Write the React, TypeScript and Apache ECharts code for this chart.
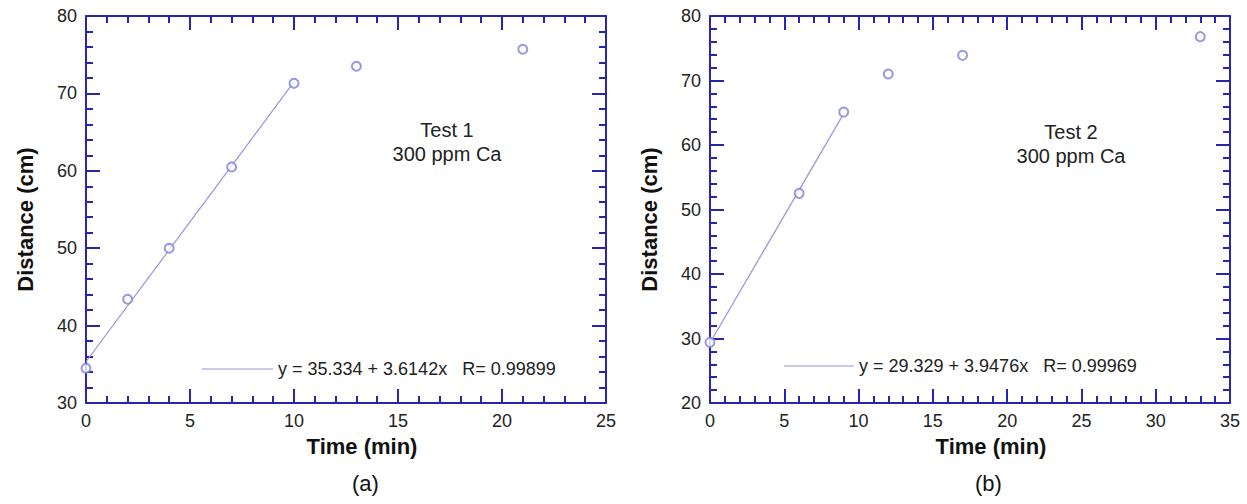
import { useEffect, useRef } from 'react';
import * as echarts from 'echarts';

// Test 1 (a): time (min) / distance (cm)
const test1Time = [0, 2, 4, 7, 10, 13, 21];
const test1Distance = [34.5, 43.4, 50.0, 60.5, 71.3, 73.5, 75.7];
const test1FitTime = [0, 10];
const test1FitDistance = [35.33, 71.48];

// Test 2 (b)
const test2Time = [0, 6, 9, 12, 17, 33];
const test2Distance = [29.4, 52.5, 65.1, 71.0, 73.9, 76.8];
const test2FitTime = [0, 9];
const test2FitDistance = [29.33, 64.86];

const test1FitName = 'y = 35.334 + 3.6142x\u00a0\u00a0\u00a0R= 0.99899';
const test2FitName = 'y = 29.329 + 3.9476x\u00a0\u00a0\u00a0R= 0.99969';

const FONT = "'Liberation Sans', Arial, sans-serif";
const AXIS_BLUE = '#2626b0';
const MARK_COLOR = '#8080dc';
const LINE_COLOR = '#9494e2';

const toPairs = (xs: number[], ys: number[]) => xs.map((x, i) => [x, ys[i]]);

function frameAxis(gridIndex: number, position: string, min: number, max: number, interval: number, labels: boolean, extra: any = {}) {
  return {
    type: 'value',
    gridIndex,
    position,
    min,
    max,
    interval,
    axisLine: { show: true, onZero: false, lineStyle: { color: AXIS_BLUE, width: 2 } },
    axisTick: { show: true, inside: true, length: 14, lineStyle: { color: AXIS_BLUE, width: 2 } },
    minorTick: { show: true, splitNumber: 5, length: 7, lineStyle: { color: AXIS_BLUE, width: 2 } },
    splitLine: { show: false },
    minorSplitLine: { show: false },
    axisLabel: { show: labels, color: '#222', fontSize: 18, fontFamily: FONT, margin: 9 },
    ...extra,
  };
}

const xName = (padLeft: number) => ({
  name: 'Time (min)',
  nameLocation: 'middle',
  nameGap: 32,
  nameTextStyle: { color: '#111', fontSize: 22, fontWeight: 'bold', fontFamily: FONT, padding: [0, 0, 0, padLeft] },
});

const yName = {
  name: 'Distance (cm)',
  nameLocation: 'middle',
  nameGap: 50,
  nameTextStyle: { color: '#111', fontSize: 22, fontWeight: 'bold', fontFamily: FONT, padding: [0, 20, 0, 0] },
};

const fitLegend = (name: string, left: number, top: number, width: number) => ({
  data: [name],
  left,
  top,
  padding: 0,
  icon: 'rect',
  itemWidth: width,
  itemHeight: 1.2,
  selectedMode: false,
  textStyle: { color: '#222', fontSize: 18, fontFamily: FONT },
});

const noteText = (text: string, x: number, y: number) => ({
  type: 'text',
  x,
  y,
  style: {
    text,
    fill: '#222',
    fontSize: 20,
    lineHeight: 24,
    fontFamily: FONT,
    align: 'center',
    verticalAlign: 'top',
  },
});

export default function App() {
  const chartRef = useRef<HTMLDivElement>(null);

  useEffect(() => {
    if (!chartRef.current) return;
    const chart = echarts.init(chartRef.current, null, { renderer: 'svg' });

    const option = {
      animation: false,
      backgroundColor: '#ffffff',
      grid: [
        { left: 86, top: 16, width: 520, height: 387 },
        { left: 710, top: 16, width: 520, height: 387 },
      ],
      xAxis: [
        frameAxis(0, 'bottom', 0, 25, 5, true, xName(32)),
        frameAxis(0, 'top', 0, 25, 5, false),
        frameAxis(1, 'bottom', 0, 35, 5, true, xName(42)),
        frameAxis(1, 'top', 0, 35, 5, false),
      ],
      yAxis: [
        frameAxis(0, 'left', 30, 80, 10, true, yName),
        frameAxis(0, 'right', 30, 80, 10, false),
        frameAxis(1, 'left', 20, 80, 10, true, yName),
        frameAxis(1, 'right', 20, 80, 10, false),
      ],
      legend: [
        fitLegend(test1FitName, 202, 360, 71),
        fitLegend(test2FitName, 784, 357, 70),
      ],
      graphic: [
        noteText('Test 1\n300 ppm Ca', 447, 118),
        noteText('Test 2\n300 ppm Ca', 1071, 120),
        {
          type: 'text',
          left: 352,
          top: 472,
          style: { text: '(a)', fill: '#111', fontSize: 22, fontFamily: FONT },
        },
        {
          type: 'text',
          left: 975,
          top: 472,
          style: { text: '(b)', fill: '#111', fontSize: 22, fontFamily: FONT },
        },
      ],
      series: [
        {
          name: 'Test 1',
          type: 'scatter',
          xAxisIndex: 0,
          yAxisIndex: 0,
          symbol: 'emptyCircle',
          symbolSize: 9,
          itemStyle: { color: MARK_COLOR, borderWidth: 1.2 },
          data: toPairs(test1Time, test1Distance),
          z: 3,
        },
        {
          name: test1FitName,
          type: 'line',
          xAxisIndex: 0,
          yAxisIndex: 0,
          symbol: 'none',
          lineStyle: { color: LINE_COLOR, width: 1.2 },
          itemStyle: { color: LINE_COLOR },
          data: toPairs(test1FitTime, test1FitDistance),
        },
        {
          name: 'Test 2',
          type: 'scatter',
          xAxisIndex: 2,
          yAxisIndex: 2,
          symbol: 'emptyCircle',
          symbolSize: 9,
          itemStyle: { color: MARK_COLOR, borderWidth: 1.2 },
          data: toPairs(test2Time, test2Distance),
          z: 3,
        },
        {
          name: test2FitName,
          type: 'line',
          xAxisIndex: 2,
          yAxisIndex: 2,
          symbol: 'none',
          lineStyle: { color: LINE_COLOR, width: 1.2 },
          itemStyle: { color: LINE_COLOR },
          data: toPairs(test2FitTime, test2FitDistance),
        },
      ],
    };

    chart.setOption(option);

    return () => {
      chart.dispose();
    };
  }, []);

  return (
    <div
      ref={chartRef}
      style={{ position: 'fixed', left: 0, top: 0, width: '1247px', height: '504px', background: '#fff' }}
    ></div>
  );
}
